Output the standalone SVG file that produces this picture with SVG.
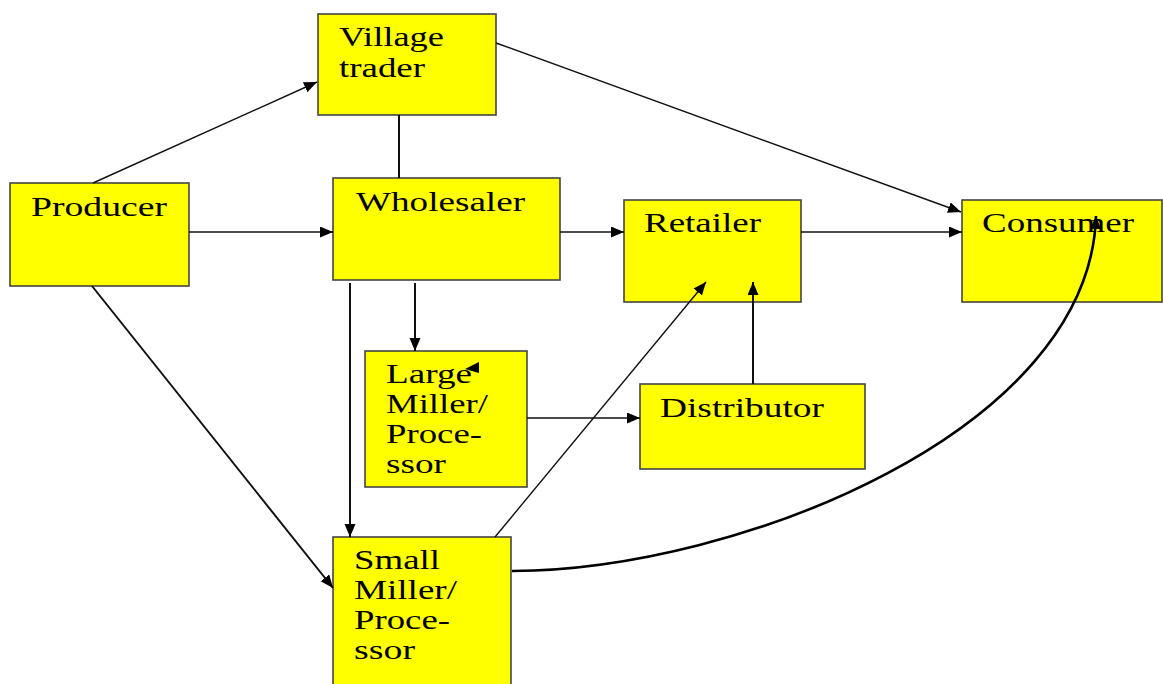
<svg xmlns="http://www.w3.org/2000/svg" width="1163" height="684" viewBox="0 0 1163 684">
<defs>
<style>
.box{fill:#ffff00;stroke:#444;stroke-width:1.6}
.t{font-family:"Liberation Serif","Times New Roman",serif;font-size:27px;fill:#000}
.c{fill:none;stroke:#111;stroke-width:1.4}
.c2{fill:none;stroke:#111;stroke-width:2}
.c3{fill:none;stroke:#000;stroke-width:2.6}
</style>
<marker id="ah" markerUnits="userSpaceOnUse" markerWidth="14" markerHeight="12" refX="13" refY="5.5" orient="auto">
<path d="M0,0 L13,5.5 L0,11 z" fill="#000"/>
</marker>
</defs>
<rect width="1163" height="684" fill="#fff"/>
<g id="village-trader">
<rect class="box" x="318" y="14" width="178" height="101"/>
<text class="t" x="339" y="46" textLength="105" lengthAdjust="spacingAndGlyphs">Village</text>
<text class="t" x="339" y="77" textLength="86" lengthAdjust="spacingAndGlyphs">trader</text>
</g>
<g id="producer">
<rect class="box" x="10" y="183" width="179" height="103"/>
<text class="t" x="31" y="216" textLength="136" lengthAdjust="spacingAndGlyphs">Producer</text>
</g>
<g id="wholesaler">
<rect class="box" x="333" y="178" width="227" height="102"/>
<text class="t" x="356" y="211" textLength="169" lengthAdjust="spacingAndGlyphs">Wholesaler</text>
</g>
<g id="retailer">
<rect class="box" x="624" y="200" width="177" height="102"/>
<text class="t" x="644" y="232" textLength="117" lengthAdjust="spacingAndGlyphs">Retailer</text>
</g>
<g id="consumer">
<rect class="box" x="962" y="200" width="200" height="102"/>
<text class="t" x="982" y="232" textLength="152" lengthAdjust="spacingAndGlyphs">Consumer</text>
</g>
<g id="distributor">
<rect class="box" x="640" y="384" width="225" height="85"/>
<text class="t" x="660" y="417" textLength="164" lengthAdjust="spacingAndGlyphs">Distributor</text>
</g>
<g id="large-miller">
<rect class="box" x="365" y="351" width="162" height="136"/>
<text class="t" x="386" y="383" textLength="86" lengthAdjust="spacingAndGlyphs">Large</text>
<text class="t" x="386" y="413" textLength="102" lengthAdjust="spacingAndGlyphs">Miller/</text>
<text class="t" x="386" y="443" textLength="96" lengthAdjust="spacingAndGlyphs">Proce-</text>
<text class="t" x="386" y="473" textLength="60" lengthAdjust="spacingAndGlyphs">ssor</text>
<polygon points="465,369 479,362 479,373" fill="#000"/>
</g>
<g id="small-miller">
<rect class="box" x="333" y="537" width="178" height="160"/>
<text class="t" x="354" y="569" textLength="86" lengthAdjust="spacingAndGlyphs">Small</text>
<text class="t" x="354" y="599" textLength="103" lengthAdjust="spacingAndGlyphs">Miller/</text>
<text class="t" x="354" y="629" textLength="96" lengthAdjust="spacingAndGlyphs">Proce-</text>
<text class="t" x="354" y="659" textLength="61" lengthAdjust="spacingAndGlyphs">ssor</text>
</g>
<g id="connectors">
<line class="c" x1="93" y1="183" x2="317" y2="82" marker-end="url(#ah)"/>
<line class="c" x1="189" y1="232" x2="333" y2="232" marker-end="url(#ah)"/>
<line class="c2" x1="399" y1="115" x2="399" y2="178"/>
<line class="c" x1="496" y1="43" x2="961" y2="212" marker-end="url(#ah)"/>
<line class="c" x1="560" y1="232" x2="624" y2="232" marker-end="url(#ah)"/>
<line class="c" x1="801" y1="232" x2="962" y2="232" marker-end="url(#ah)"/>
<line class="c2" x1="350" y1="283" x2="350" y2="537" marker-end="url(#ah)"/>
<line class="c2" x1="415" y1="283" x2="415" y2="351" marker-end="url(#ah)"/>
<line class="c" x1="527" y1="418" x2="640" y2="418" marker-end="url(#ah)"/>
<line class="c2" x1="753" y1="384" x2="753" y2="282" marker-end="url(#ah)"/>
<line class="c" x1="495" y1="537" x2="706" y2="282" marker-end="url(#ah)"/>
<line class="c2" x1="92" y1="286" x2="333" y2="588" marker-end="url(#ah)"/>
<path class="c3" d="M512,571 C740,570 1090,430 1096,216" marker-end="url(#ah)"/>
</g>
</svg>
